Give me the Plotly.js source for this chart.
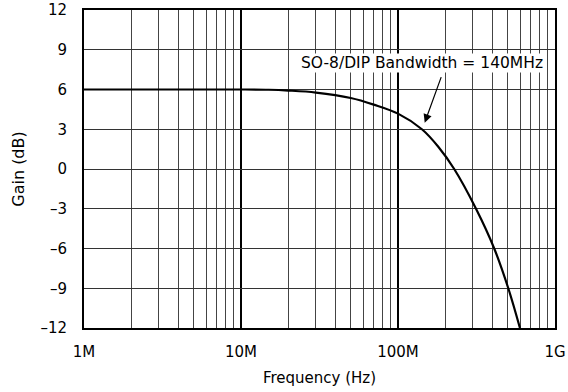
<!DOCTYPE html>
<html>
<head>
<meta charset="utf-8">
<script src="https://cdn.plot.ly/plotly-3.0.1.min.js"></script>
<style>html,body{margin:0;padding:0;background:#fff;}#chart{width:568px;height:392px;}</style>
</head>
<body>
<div id="chart"></div>
<script>
// Frequency in Hz and gain in dB
const freqHz = [1e6, 5e6, 10e6, 15e6, 20e6, 30e6, 50e6, 70e6, 100e6, 142e6, 180e6, 228e6, 314e6, 410e6, 504e6, 598e6];
const gainDb = [6, 6, 6, 5.98, 5.92, 5.77, 5.36, 4.86, 4.18, 3.0, 1.7, 0, -3, -6, -9, -12];

const xTickVals = [1e6, 1e7, 1e8, 1e9];
const xTickText = ['1M', '10M', '100M', '1G'];
const yTickVals = [-12, -9, -6, -3, 0, 3, 6, 9, 12];
const yTickText = ['\u201312', '\u20139', '\u20136', '\u20133', '0', '3', '6', '9', '12'];

const annotationText = 'SO-8/DIP Bandwidth = 140MHz';
const annotationTextPos = {f: 142e6, g: 8};
const arrowTipPos = {f: 148e6, g: 3.5};

const minorVals = [];
for (let d = 6; d < 9; d++) {
  for (let k = 2; k <= 9; k++) minorVals.push(k * Math.pow(10, d));
}

const FONT = 'DejaVu Sans, sans-serif';

const trace = {
  x: freqHz,
  y: gainDb,
  type: 'scatter',
  mode: 'lines',
  line: {color: '#000', width: 2.2, shape: 'spline', smoothing: 1},
  hoverinfo: 'skip',
  cliponaxis: true
};

const layout = {
  width: 568,
  height: 392,
  margin: {l: 84, r: 13, t: 10, b: 64},
  paper_bgcolor: '#fff',
  plot_bgcolor: '#fff',
  showlegend: false,
  font: {family: FONT, size: 15, color: '#000'},
  xaxis: {
    type: 'log',
    range: [6, 9],
    tickmode: 'array',
    tickvals: xTickVals,
    ticktext: xTickText,
    ticks: '',
    ticklabelstandoff: 9,
    showgrid: true,
    gridcolor: '#000',
    gridwidth: 2,
    minor: {tickmode: 'array', tickvals: minorVals, showgrid: true, gridcolor: '#444', gridwidth: 1, ticks: ''},
    showline: true,
    linecolor: '#000',
    linewidth: 2,
    mirror: true,
    zeroline: false,
    title: {text: 'Frequency (Hz)', font: {family: FONT, size: 15}, standoff: 12},
    automargin: false
  },
  yaxis: {
    range: [-12, 12],
    tickmode: 'array',
    tickvals: yTickVals,
    ticktext: yTickText,
    ticks: '',
    ticklabelstandoff: 12,
    showgrid: true,
    gridcolor: '#333',
    gridwidth: 1,
    showline: true,
    linecolor: '#000',
    linewidth: 2,
    mirror: true,
    zeroline: false,
    title: {text: 'Gain (dB)', font: {family: FONT, size: 16}, standoff: 12},
    automargin: false
  },
  annotations: [
    {
      x: Math.log10(annotationTextPos.f),
      y: annotationTextPos.g,
      xref: 'x', yref: 'y',
      text: annotationText,
      showarrow: false,
      bgcolor: '#fff',
      borderpad: 0,
      font: {family: FONT, size: 15.5, color: '#000'}
    },
    {
      x: Math.log10(arrowTipPos.f),
      y: arrowTipPos.g,
      xref: 'x', yref: 'y',
      text: '',
      showarrow: true,
      arrowhead: 2,
      arrowsize: 1.4,
      arrowwidth: 1.2,
      arrowcolor: '#000',
      ax: 17,
      ay: -47,
      standoff: 0
    }
  ]
};

Plotly.newPlot('chart', [trace], layout, {staticPlot: true, displayModeBar: false});
</script>
</body>
</html>
